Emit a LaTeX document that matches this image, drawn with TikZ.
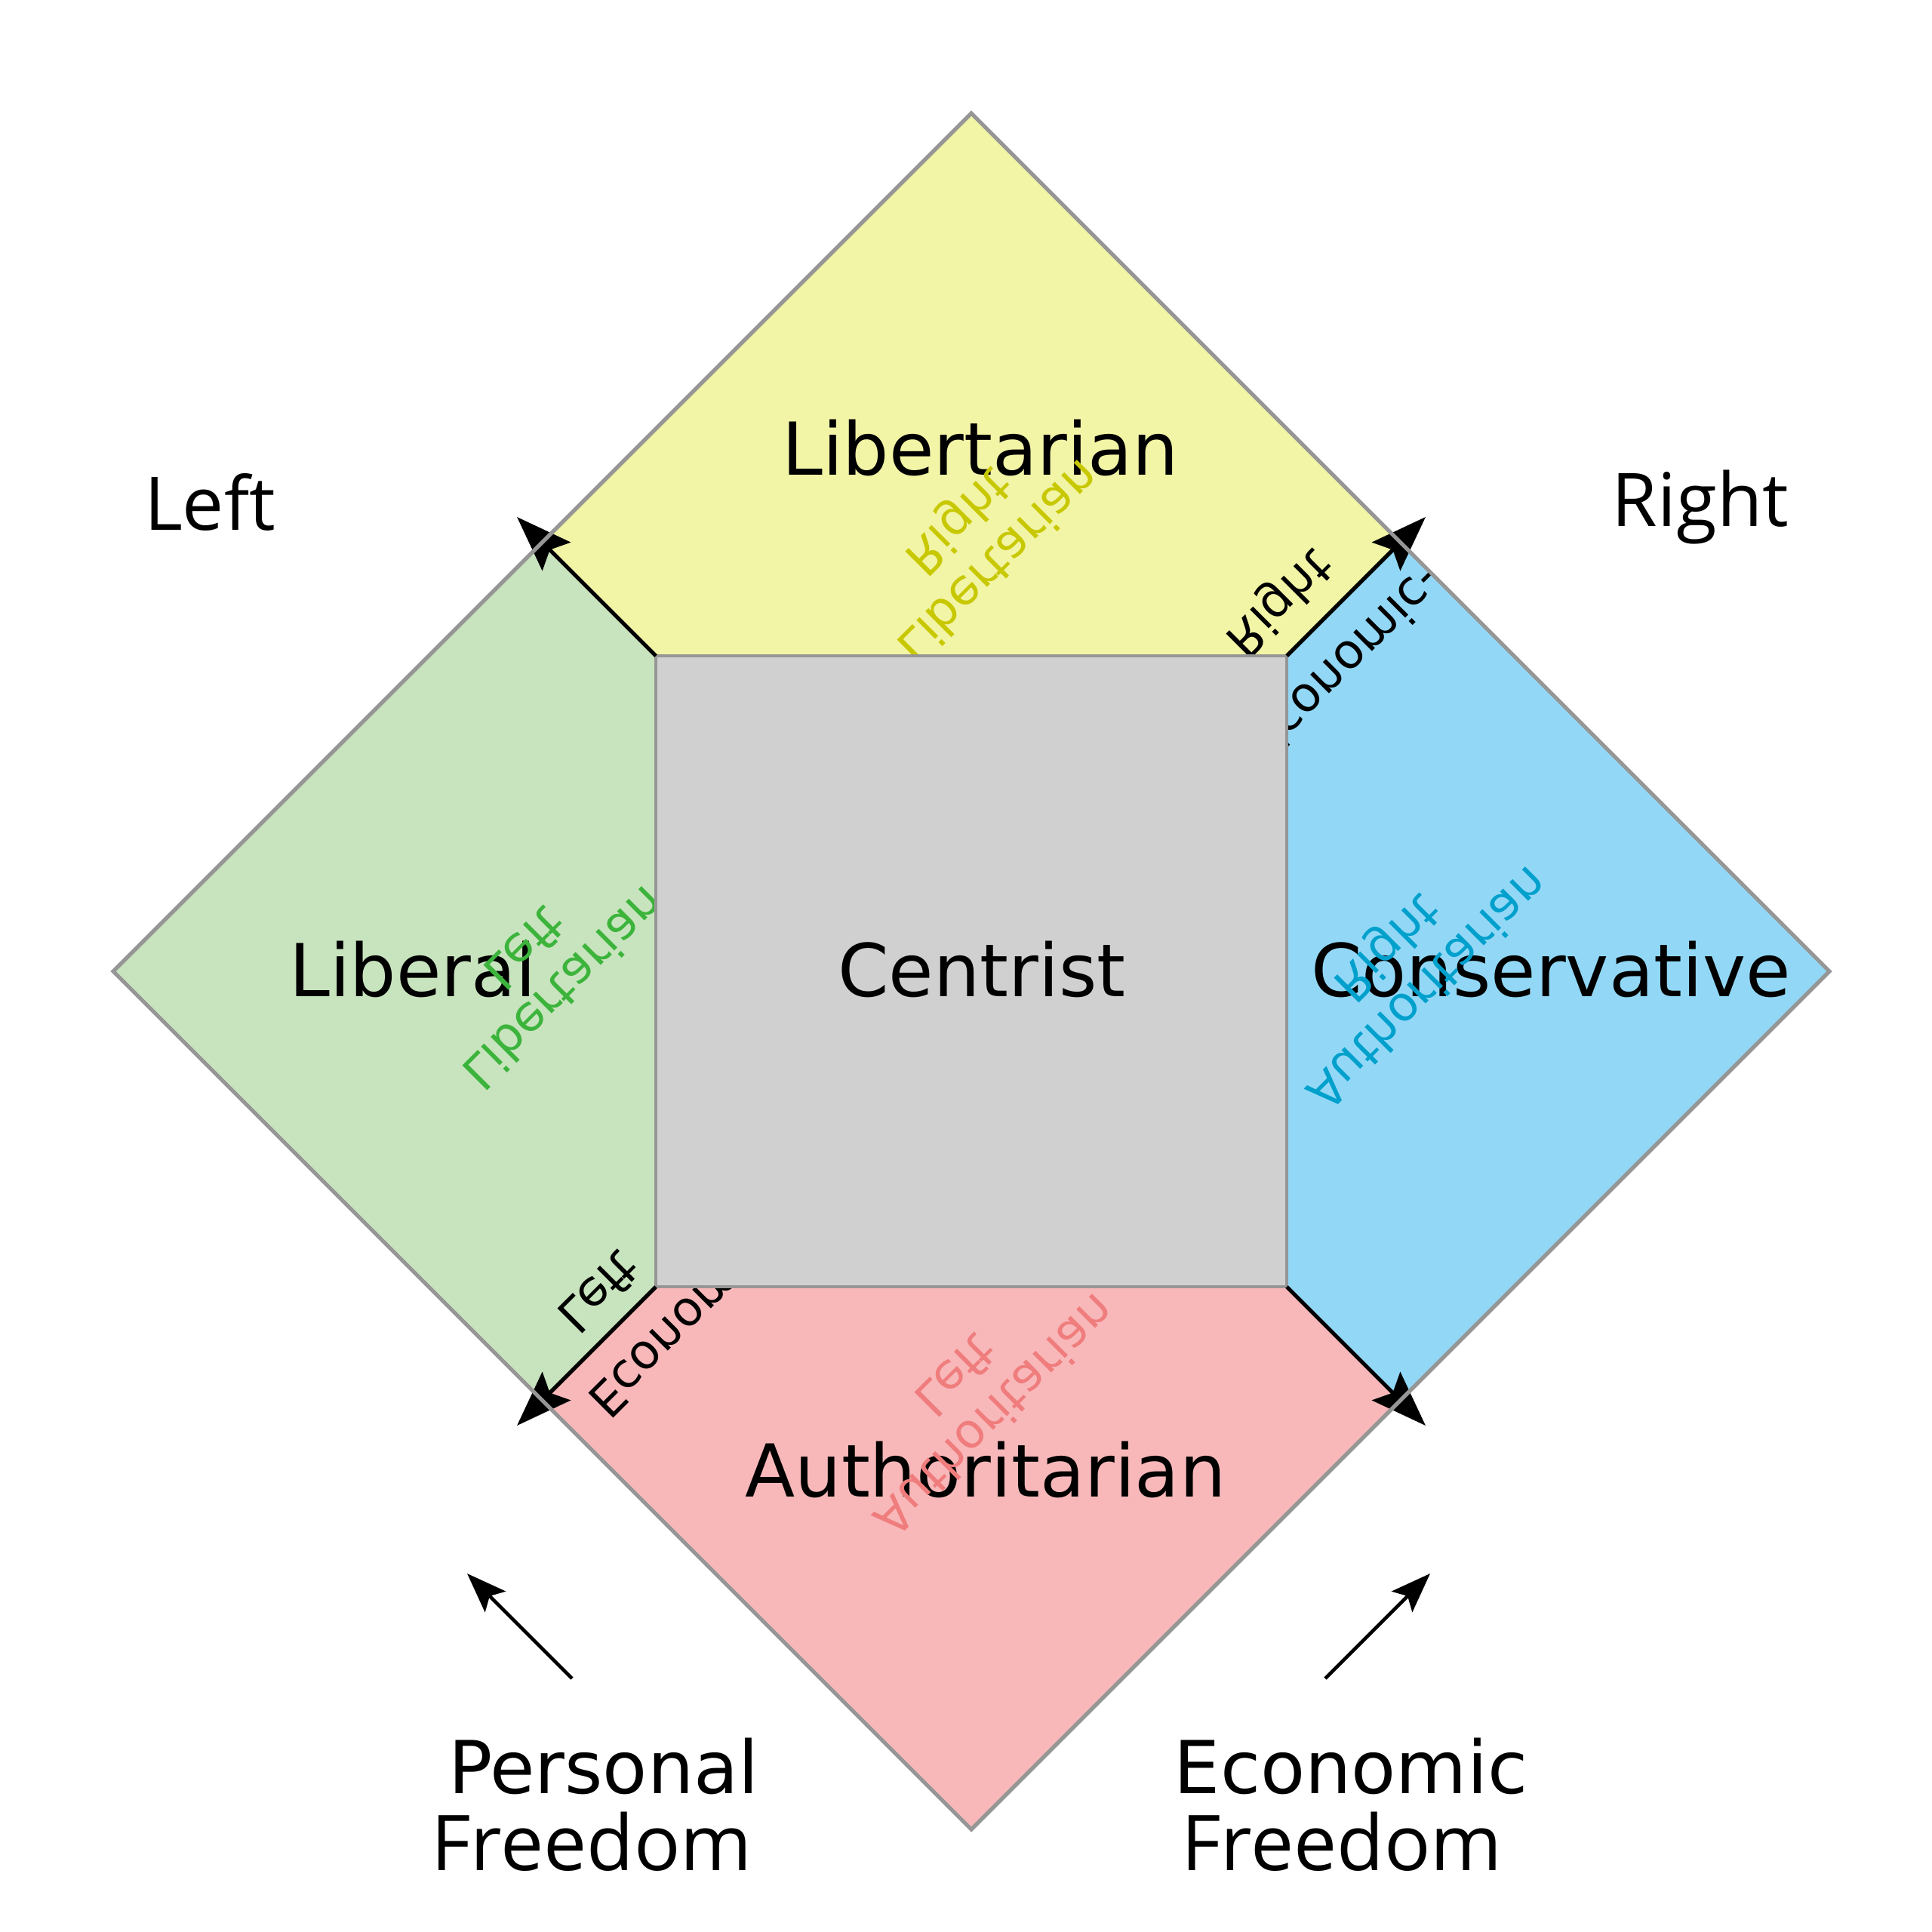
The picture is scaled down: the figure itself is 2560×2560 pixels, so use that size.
\documentclass[tikz,border=0pt]{standalone}
\usepackage{fontspec}
\setmainfont{DejaVu Sans}
\newfontfamily\opensans{Open Sans}
\usetikzlibrary{arrows.meta}
\definecolor{cyel}{RGB}{242,244,166}
\definecolor{cgrn}{RGB}{200,228,190}
\definecolor{cblu}{RGB}{146,216,246}
\definecolor{cred}{RGB}{248,184,186}
\definecolor{csq}{RGB}{208,208,208}
\definecolor{cedge}{RGB}{150,150,150}
\definecolor{tyel}{RGB}{200,200,0}
\definecolor{tgrn}{RGB}{60,180,60}
\definecolor{tblu}{RGB}{0,160,205}
\definecolor{tred}{RGB}{240,125,125}
\begin{document}
\begin{tikzpicture}[x=0.01cm,y=-0.01cm,
  dmdedge/.style={draw=cedge,line width=1.5pt,line join=miter},
  bigarrow/.style={line width=1.5pt,-{Stealth[length=21pt,width=15pt,inset=3.5pt]}},
  smallarrow/.style={line width=1.3pt,-{Stealth[length=15pt,width=11pt,inset=3pt]}},
  mainlbl/.style={inner sep=0pt,anchor=base,font=\fontsize{27.5}{32}\selectfont},
  freedomlbl/.style={inner sep=0pt,anchor=base,font=\opensans\fontsize{29}{34}\selectfont},
  sidelbl/.style={inner sep=0pt,anchor=base,font=\opensans\fontsize{27.9}{33}\selectfont},
  mirrortxt/.style={inner sep=0pt,align=center,transform shape,font=\fontsize{18.2}{21.3}\selectfont}]
\path[use as bounding box] (0,0) rectangle (2560,2560);
% diamond vertices
\coordinate (T) at (1287,150);
\coordinate (L) at (150,1287);
\coordinate (R) at (2424,1287);
\coordinate (B) at (1287,2424);
% square corners
\coordinate (sTL) at (869,869);
\coordinate (sTR) at (1705,869);
\coordinate (sBR) at (1705,1705);
\coordinate (sBL) at (869,1705);
% edge crossings
\coordinate (pTL) at (718.5,718.5);
\coordinate (pTR) at (1855.5,718.5);
\coordinate (pBR) at (1855.5,1855.5);
\coordinate (pBL) at (718.5,1855.5);
% arrow tips
\coordinate (aTL) at (685,685);
\coordinate (aTR) at (1889,685);
\coordinate (aBR) at (1889,1889);
\coordinate (aBL) at (685,1889);
% regions
\fill[cyel] (T) -- (pTR) -- (sTR) -- (sTL) -- (pTL) -- cycle;
\fill[cblu] (pTR) -- (R) -- (pBR) -- (sBR) -- (sTR) -- cycle;
\fill[cred] (pBR) -- (B) -- (pBL) -- (sBL) -- (sBR) -- cycle;
\fill[cgrn] (pBL) -- (L) -- (pTL) -- (sTL) -- (sBL) -- cycle;
% main labels
\node[mainlbl] (lib) at (1299,629) {Libertarian};
\node[mainlbl] (liberal) at (547,1320) {Liberal};
\node[mainlbl] (cons) at (2055,1320) {Conservative};
\node[mainlbl] (auth) at (1306,1983) {Authoritarian};
% mirrored texts
\begin{scope}[shift={(1294,715)},rotate=45,yscale=-1]
\node[mirrortxt,text=tyel] (rlibt) at (0,0) {Libertarian\\Right};
\end{scope}
\begin{scope}[shift={(722,1284)},rotate=45,yscale=-1]
\node[mirrortxt,text=tgrn] (llibt) at (0,0) {Libertarian\\Left};
\end{scope}
\begin{scope}[shift={(1862,1280)},rotate=45,yscale=-1]
\node[mirrortxt,text=tblu] (rautht) at (0,0) {Authoritarian\\Right};
\end{scope}
\begin{scope}[shift={(1293,1850)},rotate=45,yscale=-1]
\node[mirrortxt,text=tred] (lautht) at (0,0) {Authoritarian\\Left};
\end{scope}
\begin{scope}[shift={(1693,797)},rotate=45,yscale=-1]
\node[mirrortxt] (erR) at (0,0) {Right};
\end{scope}
\begin{scope}[shift={(1786,879)},rotate=45,yscale=-1]
\node[mirrortxt] (erE) at (0,0) {Economic-};
\end{scope}
\begin{scope}[shift={(794,1713)},rotate=45,yscale=-1]
\node[mirrortxt] (elL) at (0,0) {Left};
\end{scope}
\begin{scope}[shift={(910,1750)},rotate=45,yscale=-1]
\node[mirrortxt] (elE) at (0,0) {Economic-};
\end{scope}
% centre square
\filldraw[fill=csq,draw=cedge,line width=1.4pt] (sTL) -- (sTR) -- (sBR) -- (sBL) -- cycle;
\node[mainlbl] (cen) at (1301,1320) {Centrist};
% diagonal arrows
\draw[bigarrow] (sTL) -- (aTL);
\draw[bigarrow] (sTR) -- (aTR);
\draw[bigarrow] (sBR) -- (aBR);
\draw[bigarrow] (sBL) -- (aBL);
% diamond outline
\draw[dmdedge] (T) -- (R) -- (B) -- (L) -- cycle;
% outer labels
\node[sidelbl] (left) at (278,702) {Left};
\node[sidelbl] (right) at (2253,697) {Right};
\node[mainlbl] (pers) at (800,2376) {Personal};
\node[freedomlbl] (pfree) at (784,2478) {Freedom};
\node[mainlbl] (econ) at (1790,2376) {Economic};
\node[freedomlbl] (efree) at (1778,2478) {Freedom};
% freedom arrows
\coordinate (pfs) at (758,2224);
\coordinate (pft) at (619,2085);
\coordinate (efs) at (1756,2224);
\coordinate (eft) at (1895,2085);
\draw[smallarrow] (pfs) -- (pft);
\draw[smallarrow] (efs) -- (eft);
\end{tikzpicture}
\end{document}
